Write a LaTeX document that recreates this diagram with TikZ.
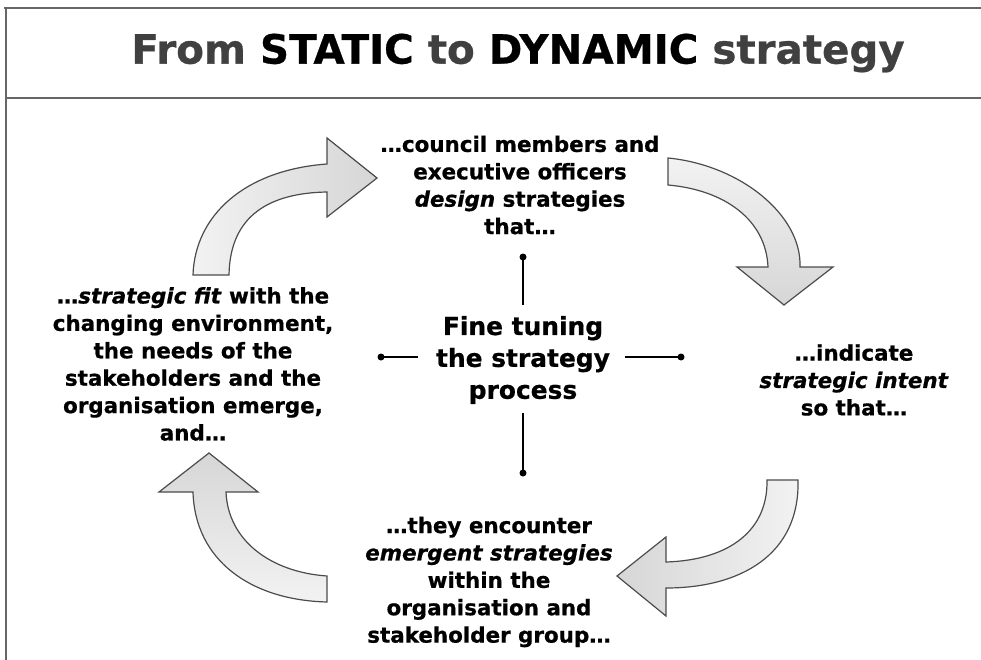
\documentclass[tikz,border=0pt]{standalone}
\usepackage{fontspec}
\setmainfont{DejaVu Sans}[BoldFont={DejaVu Sans Bold},BoldItalicFont={DejaVu Sans Bold Oblique},ItalicFont={DejaVu Sans Oblique},BoldFeatures={FakeBold=0.7},BoldItalicFeatures={FakeBold=0.7}]
\tikzset{
  frame/.style={draw=black!60, line width=1.5bp},
  body/.style={font=\bfseries\fontsize{21.5}{27.5}\selectfont, align=center, inner sep=0pt},
  centre/.style={font=\bfseries\fontsize{25}{32}\selectfont, align=center, inner sep=0pt},
  bigarrow/.style={draw=black!70, line width=1.2bp},
  dotnode/.style={circle, fill=black, inner sep=0pt, minimum size=7bp},
  tickline/.style={line width=2.5bp, draw=black},
}
\begin{document}
\begin{tikzpicture}[x=1bp,y=-1bp]
\useasboundingbox (0,0) rectangle (981,660);
\fill[white] (0,0) rectangle (981,660);
% frame
\draw[frame] (4,8) -- (981,8);
\draw[frame] (6,8) -- (6,660);
\draw[frame] (6,98) -- (981,98);
% title
\node[font=\bfseries\fontsize{40.5}{44}\selectfont, text=black!75, inner sep=0pt] (title) at (518,53)
  {From \textcolor{black}{STATIC} to \textcolor{black}{DYNAMIC} strategy};
% arrows
\shadedraw[bigarrow, left color=gray!10, right color=gray!32]
  (193,275) .. controls (195,215) and (245,170) .. (327,164) -- (327,138) -- (377,178)
  -- (327,217) -- (327,192) .. controls (270,193) and (230,215) .. (229,275) -- cycle;
\shadedraw[bigarrow, top color=gray!10, bottom color=gray!32]
  (668,158) .. controls (740,165) and (802,215) .. (800,267) -- (833,267) -- (784,305)
  -- (737,267) -- (768,267) .. controls (766,220) and (725,190) .. (668,185) -- cycle;
\shadedraw[bigarrow, right color=gray!10, left color=gray!32]
  (798,480) .. controls (800,555) and (740,588) .. (666,588) -- (666,616) -- (617,576)
  -- (666,537) -- (666,562) .. controls (730,560) and (768,530) .. (767,480) -- cycle;
\shadedraw[bigarrow, bottom color=gray!10, top color=gray!32]
  (327,602) .. controls (250,600) and (195,560) .. (193,492) -- (159,492) -- (209,453)
  -- (258,492) -- (226,492) .. controls (228,540) and (270,572) .. (327,576) -- cycle;
% texts
\node[body] (design) at (520,185)
  {…council members and\\executive officers\\\textit{design} strategies\\that…};
\node[body] (fit) at (193,364)
  {…\textit{strategic fit} with the\\changing environment,\\the needs of the\\stakeholders and the\\organisation emerge,\\and…};
\node[body] (intent) at (854,380)
  {…indicate\\\textit{strategic intent}\\so that…};
\node[body] (emergent) at (489,582)
  {…they encounter\\\textit{emergent strategies}\\within the\\organisation and\\stakeholder group…};
\node[centre] (ctr) at (523,360) {Fine tuning\\the strategy\\process};
% ticks
\node[dotnode] (dT) at (523,257) {};
\node[dotnode] (dB) at (523,473) {};
\node[dotnode] (dL) at (381,357) {};
\node[dotnode] (dR) at (681,357) {};
\coordinate (cT) at (523,305);
\coordinate (cB) at (523,413);
\coordinate (cL) at (418,357);
\coordinate (cR) at (625,357);
\draw[tickline] (dT.center) -- (cT);
\draw[tickline] (dB.center) -- (cB);
\draw[tickline] (dL.center) -- (cL);
\draw[tickline] (dR.center) -- (cR);
\end{tikzpicture}
\end{document}
